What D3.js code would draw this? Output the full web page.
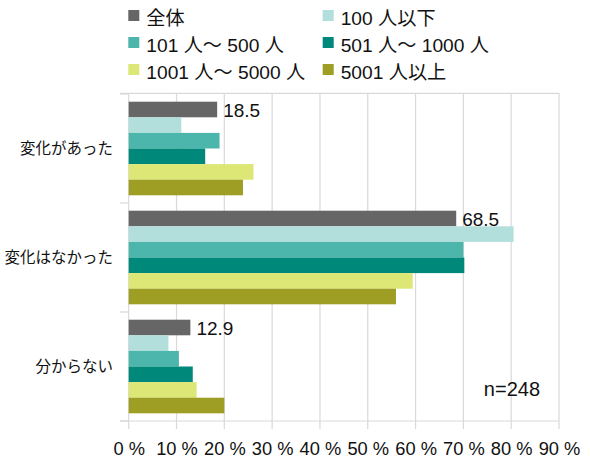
<!DOCTYPE html>
<html>
<head>
<meta charset="utf-8">
<script src="https://cdn.jsdelivr.net/npm/d3@7"></script>
<style>
  body { margin: 0; background: #fff; }
  text { font-family: "Liberation Sans", "Noto Sans CJK JP", sans-serif; fill: #111; }
</style>
</head>
<body>
<div id="chart"></div>
<script>
// categories and series
var categories = ["変化があった", "変化はなかった", "分からない"];
var seriesNames = ["全体", "100 人以下", "101 人～ 500 人", "501 人～ 1000 人", "1001 人～ 5000 人", "5001 人以上"];
var seriesColors = ["#666666", "#b2dfdb", "#4db6ac", "#00897b", "#dce775", "#9e9d24"];

// values per series (one value per category)
var zentai = [18.5, 68.5, 12.9];
var under100 = [11.0, 80.5, 8.3];
var s101to500 = [19.0, 70.0, 10.5];
var s501to1000 = [16.0, 70.2, 13.4];
var s1001to5000 = [26.1, 59.4, 14.2];
var over5001 = [23.9, 55.9, 20.0];
var seriesValues = [zentai, under100, s101to500, s501to1000, s1001to5000, over5001];

var xTicks = [0, 10, 20, 30, 40, 50, 60, 70, 80, 90];
var sampleNote = "n=248";

// SVG dimensions
var svgWidth = 590;
var svgHeight = 464;

var svg = d3.select("#chart")
  .append("svg")
  .attr("width", svgWidth)
  .attr("height", svgHeight);

// plot area
var plot = { left: 128.7, right: 559, top: 94, bottom: 421 };

var xScale = d3.scaleLinear()
  .domain([0, 90])
  .range([plot.left, plot.right]);

var yScale = d3.scaleBand()
  .domain(categories)
  .range([plot.top, plot.bottom]);

// bars inside each category band
var innerScale = d3.scaleBand()
  .domain(seriesNames)
  .range([7.7, yScale.bandwidth() - 7.7]);

// gridlines
svg.append("g")
  .selectAll("line")
  .data(xTicks)
  .enter()
  .append("line")
  .attr("x1", d => xScale(d))
  .attr("x2", d => xScale(d))
  .attr("y1", plot.top - 1)
  .attr("y2", plot.bottom + 8)
  .attr("stroke", "#d9d9d9")
  .attr("stroke-width", 1.2);

// top line and bottom axis line
svg.append("line")
  .attr("x1", 120).attr("x2", plot.right)
  .attr("y1", plot.top - 0.7).attr("y2", plot.top - 0.7)
  .attr("stroke", "#d9d9d9").attr("stroke-width", 1.2);
svg.append("line")
  .attr("x1", 120).attr("x2", plot.right)
  .attr("y1", plot.bottom).attr("y2", plot.bottom)
  .attr("stroke", "#d9d9d9").attr("stroke-width", 1.2);

// category tick marks
var bounds = categories.map(c => yScale(c)).concat([plot.bottom]);
svg.append("g")
  .selectAll("line")
  .data(bounds)
  .enter()
  .append("line")
  .attr("x1", 120)
  .attr("x2", plot.left)
  .attr("y1", d => d)
  .attr("y2", d => d)
  .attr("stroke", "#d9d9d9")
  .attr("stroke-width", 1.2);

// bars
var barData = [];
seriesNames.forEach(function(name, i) {
  categories.forEach(function(cat, j) {
    barData.push({ series: name, idx: i, cat: cat, value: seriesValues[i][j] });
  });
});

svg.append("g")
  .selectAll("rect")
  .data(barData)
  .enter()
  .append("rect")
  .attr("x", xScale(0))
  .attr("y", d => yScale(d.cat) + innerScale(d.series))
  .attr("width", d => xScale(d.value) - xScale(0))
  .attr("height", innerScale.bandwidth())
  .attr("fill", d => seriesColors[d.idx]);

// value labels for 全体
svg.append("g")
  .selectAll("text")
  .data(barData.filter(d => d.idx === 0))
  .enter()
  .append("text")
  .attr("x", d => xScale(d.value) + 6)
  .attr("y", d => yScale(d.cat) + innerScale(d.series) + innerScale.bandwidth())
  .attr("font-size", 19)
  .text(d => d.value.toFixed(1));

// category labels
svg.append("g")
  .selectAll("text")
  .data(categories)
  .enter()
  .append("text")
  .attr("x", 113)
  .attr("y", d => yScale(d) + yScale.bandwidth() / 2 + 1)
  .attr("text-anchor", "end")
  .attr("dominant-baseline", "middle")
  .attr("font-size", 15.5)
  .text(d => d);

// x axis tick labels
var xAxis = d3.axisBottom(xScale)
  .tickValues(xTicks)
  .tickSize(0)
  .tickFormat(d => d + " %");

var axisG = svg.append("g")
  .attr("transform", `translate(0, ${plot.bottom})`)
  .call(xAxis);
axisG.select(".domain").remove();
axisG.selectAll("text")
  .attr("y", 34)
  .attr("dy", 0)
  .attr("font-size", 18.3)
  .attr("font-family", "\"Liberation Sans\", sans-serif")
  .attr("fill", "#111");

// legend
var legendPos = [
  { x: 128.3, y: 10 }, { x: 322.7, y: 10 },
  { x: 128.3, y: 37 }, { x: 322.7, y: 37 },
  { x: 128.3, y: 64 }, { x: 322.7, y: 64 }
];
var legend = svg.append("g")
  .selectAll("g")
  .data(seriesNames)
  .enter()
  .append("g")
  .attr("transform", (d, i) => `translate(${legendPos[i].x}, ${legendPos[i].y})`);

legend.append("rect")
  .attr("width", 11)
  .attr("height", 11)
  .attr("fill", (d, i) => seriesColors[i]);

legend.append("text")
  .attr("x", 18)
  .attr("y", 14.5)
  .attr("font-size", 19.2)
  .text(d => d);

// sample size note
svg.append("text")
  .attr("x", 540)
  .attr("y", 396)
  .attr("text-anchor", "end")
  .attr("font-size", 20)
  .text(sampleNote);
</script>
</body>
</html>
